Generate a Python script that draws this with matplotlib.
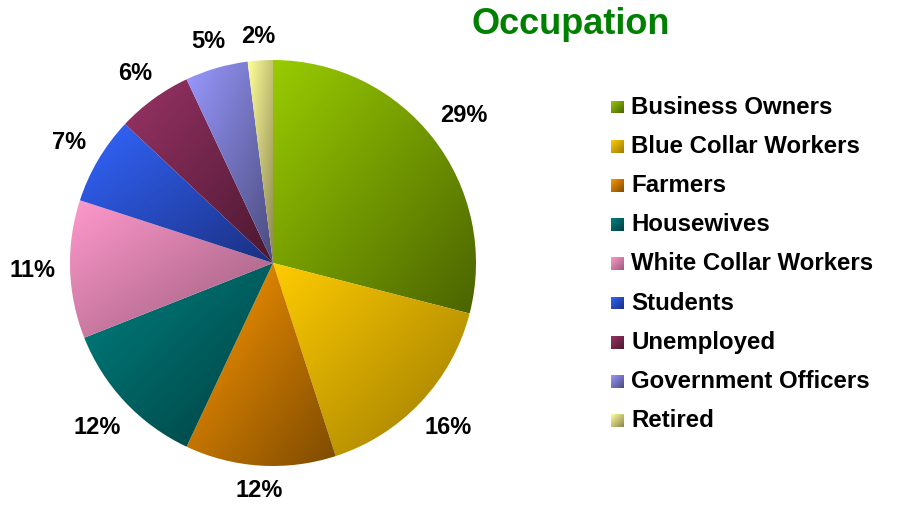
import numpy as np
import matplotlib.pyplot as plt
from matplotlib.colors import LinearSegmentedColormap

# occupation shares (percent), clockwise from 12 o'clock
categories = ['Business Owners', 'Blue Collar Workers', 'Farmers', 'Housewives',
              'White Collar Workers', 'Students', 'Unemployed',
              'Government Officers', 'Retired']
shares = [29, 16, 12, 12, 11, 7, 6, 5, 2]

# gradient colours per slice: (light, dark)
light_cols = ['#99cc00', '#ffcc00', '#ff9900', '#008080', '#ff99cc',
              '#3366ff', '#993366', '#9999ff', '#ffff99']
dark_cols = ['#4a6300', '#9c7a00', '#7d4a00', '#003f3f', '#9a5c7b',
             '#1a2f80', '#4a1830', '#4a4a7d', '#8a8550']

plt.rcParams['font.family'] = ['Liberation Sans', 'DejaVu Sans']

W, H = 905, 505
fig = plt.figure(figsize=(W / 100, H / 100), dpi=100)
ax = fig.add_axes([0, 0, 1, 1])

cx, cy, r = 273, H - 263, 203
wedges, texts = ax.pie(shares, center=(cx, cy), radius=r, startangle=90,
                       counterclock=False, frame=True,
                       labels=[f'{s}%' for s in shares], labeldistance=1.1,
                       wedgeprops=dict(linewidth=0))
ax.set_xlim(0, W)
ax.set_ylim(0, H)
ax.axis('off')

# put each label just outside the rim, pushed out by its own half-size
renderer = fig.canvas.get_renderer()
for w, t in zip(wedges, texts):
    t.set_fontsize(17)
    t.set_fontweight('bold')
    t.set_ha('center')
    t.set_va('center')
    ang = np.deg2rad((w.theta1 + w.theta2) / 2)
    bb = t.get_window_extent(renderer)
    hw, hh = bb.width / 2, bb.height / 2 * 0.8
    d = r + 14 + hw * abs(np.cos(ang)) + hh * abs(np.sin(ang))
    t.set_position((cx + d * np.cos(ang), cy + d * np.sin(ang)))


def gradient(light, dark):
    return LinearSegmentedColormap.from_list('g', [light, dark])


def fill_gradient(patch, x0, x1, y0, y1, cmap):
    # diagonal ramp: light at top-left, dark at bottom-right
    n = 200
    gx, gy = np.meshgrid(np.linspace(0, 1, n), np.linspace(0, 1, n))
    z = (gx + (1 - gy)) / 2
    im = ax.imshow(z, extent=(x0, x1, y0, y1), origin='lower', cmap=cmap,
                   vmin=0, vmax=1, aspect='auto', interpolation='bilinear', zorder=2)
    im.set_clip_path(patch)


for w, lc, dc in zip(wedges, light_cols, dark_cols):
    w.set_facecolor('none')
    verts = w.get_path().vertices
    fill_gradient(w, verts[:, 0].min(), verts[:, 0].max(),
                  verts[:, 1].min(), verts[:, 1].max(), gradient(lc, dc))

# legend drawn by hand so the swatches get the same gradient
leg_x, leg_y0, leg_step, sw = 611, H - 107, 39.2, 13
for i, (name, lc, dc) in enumerate(zip(categories, light_cols, dark_cols)):
    y = leg_y0 - i * leg_step
    box = plt.Rectangle((leg_x, y - sw / 2), sw, sw, facecolor='none', linewidth=0)
    ax.add_patch(box)
    fill_gradient(box, leg_x, leg_x + sw, y - sw / 2, y + sw / 2, gradient(lc, dc))
    ax.text(leg_x + 20, y, name, fontsize=17.3, fontweight='bold', va='center', ha='left')

ax.text(571, H - 24, 'Occupation', fontsize=26, fontweight='bold', color='#008000',
        ha='center', va='center')

fig.savefig('out.png', dpi=100)
